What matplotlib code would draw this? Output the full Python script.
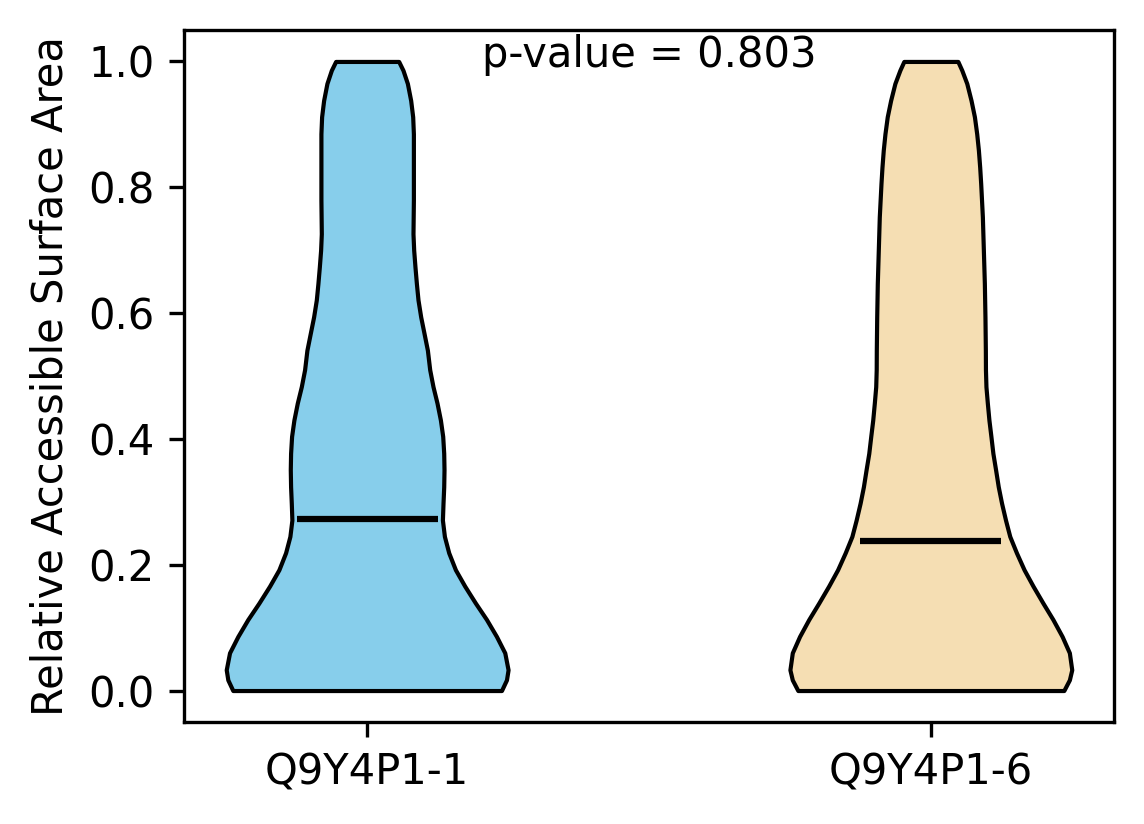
import numpy as np
import matplotlib
matplotlib.use("Agg")
import matplotlib.pyplot as plt

# Category labels
isoforms = ["Q9Y4P1-1", "Q9Y4P1-6"]
colors = ["#87CEEB", "#F5DEB3"]

# Density profiles (relative half-widths along RSA axis)
rsa_grid_1 = [0.0, 0.017, 0.033, 0.060, 0.086, 0.113, 0.139, 0.166, 0.192, 0.219,
              0.245, 0.271, 0.298, 0.324, 0.351, 0.377, 0.404, 0.430, 0.457, 0.483,
              0.510, 0.541, 0.568, 0.594, 0.621, 0.647, 0.673, 0.700, 0.726, 0.780,
              0.859, 0.885, 0.912, 0.938, 0.965, 0.986, 1.0]
density_1 = [134.2, 139.2, 140.8, 137.5, 129.2, 119.2, 108.2, 97.5, 88.2, 81.5,
             77.2, 75.2, 75.8, 76.5, 76.8, 76.5, 75.5, 73.2, 69.8, 65.8,
             62.5, 60.2, 56.8, 53.5, 50.8, 49.2, 47.8, 46.5, 45.8, 46.2,
             46.2, 46.2, 45.5, 43.5, 40.2, 35.8, 31.5]

rsa_grid_2 = [0.0, 0.017, 0.033, 0.060, 0.086, 0.113, 0.139, 0.166, 0.192, 0.219,
              0.245, 0.271, 0.298, 0.324, 0.351, 0.377, 0.404, 0.430, 0.457, 0.483,
              0.510, 0.541, 0.594, 0.647, 0.700, 0.753, 0.806, 0.832, 0.859, 0.885,
              0.912, 0.938, 0.965, 0.986, 1.0]
density_2 = [133.9, 139.5, 141.9, 139.5, 132.2, 122.9, 112.9, 102.9, 93.9, 86.2,
             79.5, 75.2, 71.2, 67.9, 65.2, 62.5, 60.5, 58.5, 56.9, 55.5,
             55.0, 54.9, 54.5, 53.9, 52.9, 51.9, 50.2, 49.2, 47.9, 46.2,
             43.9, 40.5, 36.2, 31.2, 27.2]

medians = [0.273, 0.238]
mins = [0.0, 0.0]
maxs = [1.0, 1.0]
p_value = 0.803

fig = plt.figure(figsize=(1144 / 300, 824 / 300), dpi=300)
ax = fig.add_axes([0.1608, 0.1238, 0.9738 - 0.1608, 0.9636 - 0.1238])

grids = [rsa_grid_1, rsa_grid_2]
dens = [density_1, density_2]
vpstats = []
for g, d, med, mn, mx in zip(grids, dens, medians, mins, maxs):
    vpstats.append(dict(coords=np.array(g), vals=np.array(d), mean=med,
                        median=med, min=mn, max=mx))

positions = [1, 2]
parts = ax.violin(vpstats, positions=positions, widths=0.5,
                  showmeans=False, showextrema=False, showmedians=False)
for body, c in zip(parts['bodies'], colors):
    body.set_facecolor(c)
    body.set_edgecolor('black')
    body.set_linewidth(1.0)
    body.set_alpha(1)

for pos, med in zip(positions, medians):
    ax.hlines(med, pos - 0.125, pos + 0.125, colors='black', linewidth=1.5)

ax.set_xlim(0.675, 2.325)
ax.set_ylim(-0.05, 1.05)
ax.set_xticks(positions)
ax.set_xticklabels(isoforms)
ax.set_yticks([0.0, 0.2, 0.4, 0.6, 0.8, 1.0])
ax.set_ylabel("Relative Accessible Surface Area")
ax.text(1.5, 0.991, f"p-value = {p_value:.3f}", ha='center', va='baseline')

fig.savefig("out.png", dpi=300)
